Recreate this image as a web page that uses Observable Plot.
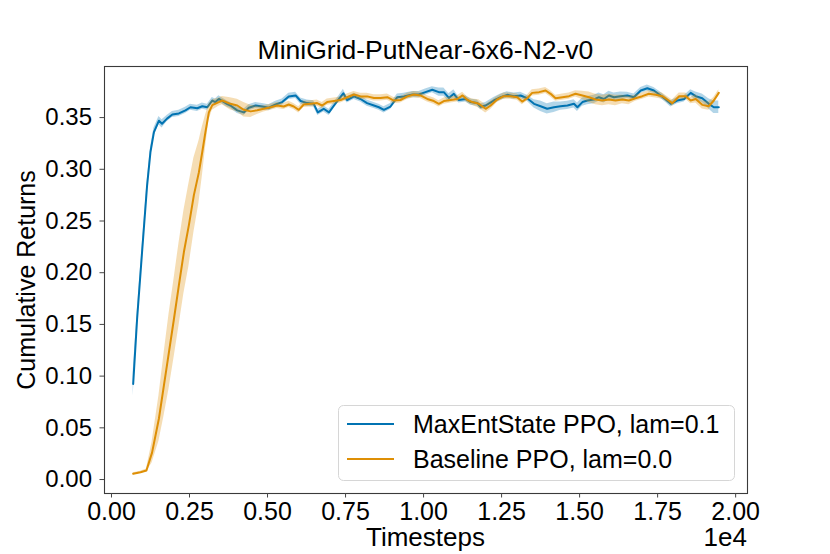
<!DOCTYPE html>
<html><head><meta charset="utf-8">
<script src="https://cdn.jsdelivr.net/npm/d3@7"></script>
<script src="https://cdn.jsdelivr.net/npm/@observablehq/plot@0.6"></script>
<style>body{margin:0;background:#fff} svg{display:block}</style>
</head><body><div id="chart"></div>
<script>
// Timesteps in units of 1e4
const blueX = [0.0695,0.082,0.098,0.114,0.125,0.136,0.152,0.162,0.178,0.195,0.216,0.237,0.253,0.275,0.291,0.307,0.323,0.333,0.344,0.371,
  0.381,0.403,0.424,0.440,0.462,0.483,0.504,0.526,0.547,0.568,0.590,0.606,0.627,0.648,0.661,0.680,0.697,0.713,0.729,0.743,
  0.755,0.777,0.798,0.819,0.841,0.857,0.873,0.894,0.916,0.937,0.964,0.985,1.006,1.028,1.049,1.065,1.081,1.097,1.113,1.135,
  1.151,1.172,1.183,1.199,1.225,1.247,1.268,1.290,1.311,1.332,1.354,1.375,1.396,1.418,1.439,1.461,1.482,1.493,1.509,1.525,
  1.546,1.562,1.578,1.594,1.610,1.631,1.653,1.674,1.696,1.717,1.738,1.760,1.776,1.792,1.813,1.835,1.856,1.872,1.893,1.914,1.930,1.946];
const blueY = [0.0925,0.155,0.220,0.284,0.317,0.336,0.347,0.344,0.349,0.353,0.354,0.357,0.360,0.359,0.361,0.360,0.3665,0.365,0.368,0.363,
  0.3617,0.357,0.355,0.3595,0.3617,0.3607,0.3595,0.3627,0.365,0.3705,0.3714,0.366,0.364,0.3633,0.355,0.3585,0.355,0.3617,0.368,0.3735,
  0.367,0.3705,0.368,0.364,0.3617,0.360,0.3575,0.3607,0.3697,0.3705,0.3723,0.3723,0.3746,0.3769,0.3746,0.3746,0.369,0.373,0.367,0.368,
  0.365,0.364,0.3605,0.3617,0.3665,0.3697,0.372,0.3707,0.3714,0.3687,0.3633,0.361,0.3585,0.360,0.361,0.3617,0.3633,0.360,0.365,0.3665,
  0.3675,0.3697,0.368,0.3714,0.3697,0.3707,0.3714,0.3697,0.3762,0.3784,0.3762,0.3714,0.3675,0.3633,0.3665,0.368,0.3739,0.3707,0.3687,0.3633,0.360,0.360];
const blueErr = [0.012,0.006,0.005,0.004,0.004,0.004,0.004,0.004,0.003,0.003,0.003,0.003,0.003,0.003,0.003,0.003,0.003,0.003,0.003,0.003,
  0.003,0.003,0.003,0.003,0.003,0.003,0.003,0.003,0.003,0.003,0.003,0.003,0.003,0.003,0.003,0.003,0.003,0.003,0.003,0.004,
  0.003,0.003,0.003,0.003,0.003,0.003,0.003,0.003,0.003,0.003,0.003,0.003,0.003,0.003,0.004,0.004,0.004,0.004,0.003,0.003,
  0.003,0.003,0.003,0.003,0.003,0.003,0.003,0.003,0.003,0.003,0.004,0.005,0.005,0.005,0.004,0.004,0.004,0.004,0.004,0.004,
  0.004,0.004,0.004,0.004,0.004,0.004,0.003,0.003,0.003,0.003,0.003,0.003,0.003,0.003,0.003,0.003,0.003,0.004,0.004,0.005,0.006,0.006];

const orangeX = [0.0695,0.093,0.112,0.130,0.152,0.168,0.184,0.200,0.216,0.232,0.248,0.264,0.280,0.291,0.301,0.312,0.323,0.344,0.355,
  0.381,0.403,0.424,0.446,0.467,0.488,0.510,0.531,0.552,0.568,0.584,0.600,0.616,0.638,0.659,0.675,0.691,0.713,0.734,0.755,0.777,
  0.798,0.819,0.841,0.862,0.884,0.905,0.926,0.948,0.969,0.990,1.012,1.033,1.049,1.065,1.087,1.108,1.125,1.141,1.156,1.177,
  1.199,1.215,1.236,1.257,1.279,1.300,1.316,1.332,1.348,1.370,1.391,1.407,1.423,1.445,1.466,1.487,1.509,1.530,1.551,1.573,
  1.594,1.615,1.637,1.658,1.679,1.701,1.722,1.744,1.765,1.781,1.797,1.819,1.840,1.856,1.872,1.893,1.914,1.930,1.946];
const orangeY = [0.0055,0.007,0.0087,0.026,0.059,0.091,0.123,0.155,0.188,0.220,0.246,0.275,0.297,0.317,0.336,0.355,0.362,0.365,0.3665,
  0.3633,0.3617,0.3575,0.356,0.357,0.3585,0.360,0.3617,0.3607,0.3627,0.3607,0.3575,0.3627,0.3633,0.364,0.3617,0.365,0.366,0.367,0.3697,0.3723,
  0.3705,0.3705,0.369,0.369,0.3697,0.3665,0.367,0.3705,0.3723,0.3714,0.368,0.366,0.3633,0.366,0.367,0.368,0.3714,0.367,0.365,0.3633,
  0.3585,0.3617,0.3675,0.3707,0.3707,0.3697,0.3655,0.3687,0.3739,0.3746,0.3762,0.373,0.3687,0.3697,0.3707,0.373,0.3714,0.3697,0.3675,0.3665,
  0.3675,0.3665,0.3675,0.3665,0.3687,0.3707,0.373,0.372,0.3707,0.3675,0.364,0.3707,0.3707,0.3665,0.368,0.3623,0.361,0.3665,0.3739];
const orangeErr = [0.001,0.001,0.0015,0.010,0.022,0.030,0.036,0.038,0.040,0.040,0.040,0.036,0.030,0.024,0.016,0.008,0.005,0.004,0.004,
  0.006,0.006,0.007,0.006,0.004,0.003,0.003,0.003,0.003,0.003,0.003,0.003,0.003,0.003,0.003,0.003,0.003,0.003,0.003,0.003,0.003,
  0.003,0.003,0.003,0.003,0.003,0.003,0.003,0.003,0.003,0.003,0.003,0.003,0.003,0.003,0.003,0.003,0.003,0.003,0.003,0.004,
  0.004,0.004,0.003,0.003,0.003,0.003,0.003,0.003,0.003,0.003,0.003,0.003,0.003,0.003,0.003,0.003,0.004,0.005,0.005,0.005,
  0.005,0.005,0.004,0.004,0.003,0.003,0.003,0.003,0.003,0.003,0.003,0.003,0.003,0.003,0.004,0.004,0.004,0.003,0.003];

const xTicks = [0, 0.25, 0.5, 0.75, 1.0, 1.25, 1.5, 1.75, 2.0];
const yTicks = [0, 0.05, 0.10, 0.15, 0.20, 0.25, 0.30, 0.35];
const seriesNames = ["MaxEntState PPO, lam=0.1", "Baseline PPO, lam=0.0"];
const seriesColors = ["#0173b2", "#de8f05"];
const titleText = "MiniGrid-PutNear-6x6-N2-v0";
const xLabel = "Timesteps";
const yLabel = "Cumulative Returns";
const xOffsetText = "1e4";

const FONT = '"Liberation Sans", Arial, Helvetica, sans-serif';
function rows(xs, ys, es) { return xs.map((x, i) => ({x, y: ys[i], lo: ys[i] - es[i], hi: ys[i] + es[i]})); }
const blue = rows(blueX, blueY, blueErr);
const orange = rows(orangeX, orangeY, orangeErr);

const chart = Plot.plot({
  width: 830, height: 554,
  marginLeft: 104, marginRight: 83, marginTop: 66, marginBottom: 61,
  style: {fontFamily: FONT, background: "white", color: "#000", overflow: "visible"},
  x: {domain: [-0.0224, 2.038]},
  y: {domain: [-0.0135, 0.3994]},
  marks: [
    Plot.areaY(blue, {x: "x", y1: "lo", y2: "hi", fill: seriesColors[0], fillOpacity: 0.3}),
    Plot.line(blue, {x: "x", y: "y", stroke: seriesColors[0], strokeWidth: 2}),
    Plot.areaY(orange, {x: "x", y1: "lo", y2: "hi", fill: seriesColors[1], fillOpacity: 0.3}),
    Plot.line(orange, {x: "x", y: "y", stroke: seriesColors[1], strokeWidth: 2}),
    Plot.frame({stroke: "#3a3a3a", strokeWidth: 1.1}),
    Plot.axisX(xTicks, {anchor: "bottom", tickSize: 4.5, tickPadding: 4, fontSize: 25, tickFormat: d => d.toFixed(2), label: null, stroke: "#444"}),
    Plot.axisY(yTicks, {anchor: "left", tickSize: 4.5, tickPadding: 8, fontSize: 24, tickFormat: d => d.toFixed(2), label: null, stroke: "#444"})
  ]
});
document.getElementById("chart").appendChild(chart);

const svg = d3.select(chart);
const txt = (x, y, s, size, anchor) => svg.append("text").attr("x", x).attr("y", y)
  .attr("text-anchor", anchor).attr("fill", "#000").style("font-family", FONT).style("font-size", size + "px").text(s);
txt(425.5, 59, titleText, 26.5, "middle");
txt(425.5, 546, xLabel, 26, "middle");
txt(747, 546, xOffsetText, 26, "end");
svg.append("text").attr("transform", "translate(35,280) rotate(-90)").attr("text-anchor", "middle")
  .attr("fill", "#000").style("font-family", FONT).style("font-size", "25px").text(yLabel);

const lg = svg.append("g");
lg.append("rect").attr("x", 338.5).attr("y", 405.5).attr("width", 396).attr("height", 75).attr("rx", 5)
  .attr("fill", "#fff").attr("fill-opacity", 0.8).attr("stroke", "#d6d6d6").attr("stroke-width", 1);
seriesNames.forEach((name, i) => {
  const cy = 424 + i * 35;
  lg.append("line").attr("x1", 347).attr("x2", 394).attr("y1", cy).attr("y2", cy)
    .attr("stroke", seriesColors[i]).attr("stroke-width", 2);
  lg.append("text").attr("x", 413).attr("y", cy + 9).attr("fill", "#000").attr("text-anchor", "start")
    .style("font-family", FONT).style("font-size", "25px").text(name);
});
</script></body></html>
